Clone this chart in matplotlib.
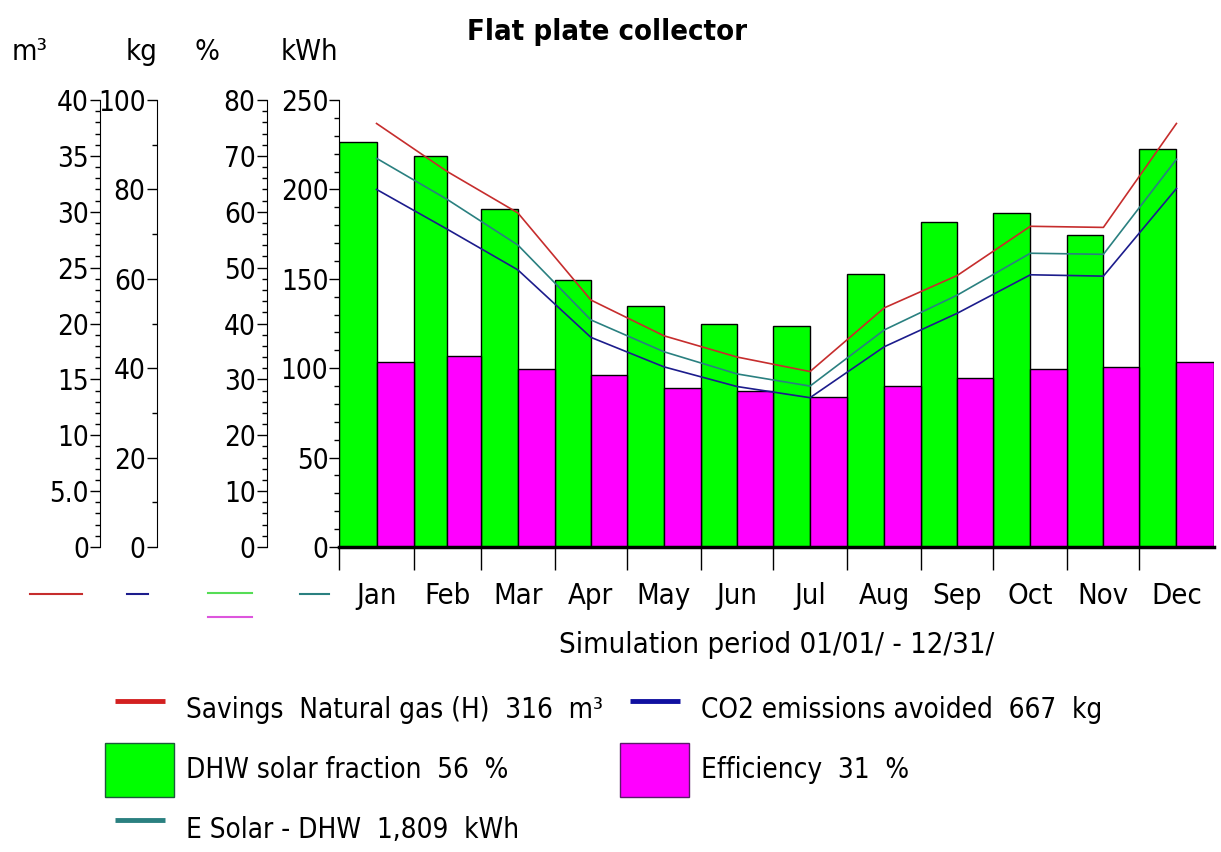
import numpy as np
import matplotlib
matplotlib.use("Agg")
import matplotlib.pyplot as plt
from matplotlib import font_manager as fm
from matplotlib.lines import Line2D
from matplotlib.patches import Patch
from matplotlib.ticker import MultipleLocator, FixedLocator

fp = fm.FontProperties(family='DejaVu Sans', stretch='condensed')
if 'Condensed' in fm.findfont(fp, fallback_to_default=False):
    plt.rcParams['font.family'] = ['DejaVu Sans']
    plt.rcParams['font.stretch'] = 'condensed'
    fs = 21
else:
    plt.rcParams['font.family'] = ['Liberation Sans', 'DejaVu Sans']
    fs = 20
plt.rcParams['font.size'] = fs

months = ['Jan', 'Feb', 'Mar', 'Apr', 'May', 'Jun',
          'Jul', 'Aug', 'Sep', 'Oct', 'Nov', 'Dec']
days_in_month = [31, 28, 31, 30, 31, 30, 31, 31, 30, 31, 30, 31]

# % axis (bars)
solar_fraction = [72.5, 70.0, 60.5, 47.8, 43.2, 39.9, 39.6, 48.8, 58.2, 59.8, 55.9, 71.2]
efficiency = [33.1, 34.2, 31.8, 30.8, 28.5, 27.9, 26.8, 28.8, 30.2, 31.8, 32.2, 33.1]
# lines
gas_savings = [37.9, 33.6, 29.9, 22.1, 18.9, 17.0, 15.7, 21.4, 24.3, 28.7, 28.6, 37.9]   # m3
co2_avoided = [80.0, 71.1, 62.0, 46.9, 40.3, 35.9, 33.4, 44.8, 52.3, 60.9, 60.6, 80.2]   # kg
e_solar = [217.4, 194.4, 168.9, 127.0, 109.2, 96.8, 90.0, 121.4, 140.9, 164.3, 163.7, 216.8]  # kWh

m3_ticks = [0, 5, 10, 15, 20, 25, 30, 35, 40]
m3_labels = ['0', '5.0', '10', '15', '20', '25', '30', '35', '40']

red = '#c62d2d'
blue = '#1c1c8c'
teal = '#2a8080'
green = '#00ff00'
magenta = '#ff00ff'

dm = np.array(days_in_month)
start = np.concatenate([[0], np.cumsum(dm)[:-1]])
half = dm / 2
mid = start + half

fig = plt.figure(figsize=(12.21, 8.52), dpi=100)
ax = fig.add_axes([0.278, 0.358, 0.7159, 0.5246])   # % axis, holds bars + x axis
ax_kwh = ax.twinx()
ax_kg = ax.twinx()
ax_m3 = ax.twinx()

ax.bar(start, solar_fraction, width=half, align='edge', color=green,
       edgecolor='black', linewidth=1)
ax.bar(start + half, efficiency, width=half, align='edge', color=magenta,
       edgecolor='black', linewidth=1)
ax_m3.plot(mid, gas_savings, color=red, lw=1.2)
ax_kg.plot(mid, co2_avoided, color=blue, lw=1.2)
ax_kwh.plot(mid, e_solar, color=teal, lw=1.2)

ax.set_xlim(0, 365)
ax.set_ylim(0, 80)
ax_kwh.set_ylim(0, 250)
ax_kg.set_ylim(0, 100)
ax_m3.set_ylim(0, 40)

# y axes all on the left, pushed outward
for a, off in [(ax, 52.4), (ax_kwh, 0), (ax_kg, 131.6), (ax_m3, 172.4)]:
    a.yaxis.tick_left()
    for s in ['top', 'right']:
        a.spines[s].set_visible(False)
    a.spines['left'].set_visible(True)
    a.spines['left'].set_position(('outward', off))
    a.tick_params(axis='y', which='major', direction='out', length=7, width=1,
                  pad=1, labelsize=fs - 1)
    a.tick_params(axis='y', which='minor', direction='out', length=3.5, width=1)
for a in [ax_kwh, ax_kg, ax_m3]:
    a.spines['bottom'].set_visible(False)

ax.yaxis.set_major_locator(MultipleLocator(10))
ax.yaxis.set_minor_locator(MultipleLocator(2))
ax_kwh.yaxis.set_major_locator(MultipleLocator(50))
ax_kwh.yaxis.set_minor_locator(MultipleLocator(10))
ax_kg.yaxis.set_major_locator(MultipleLocator(20))
ax_kg.yaxis.set_minor_locator(MultipleLocator(10))
ax_m3.set_yticks(m3_ticks, m3_labels)
ax_m3.yaxis.set_minor_locator(MultipleLocator(1))

ax.spines['bottom'].set_linewidth(2.5)
ax.xaxis.set_major_locator(FixedLocator(start))
ax.xaxis.set_minor_locator(FixedLocator(mid))
ax.set_xticklabels([])
ax.set_xticks(mid, months, minor=True)
ax.tick_params(axis='x', which='major', direction='out', length=16.5, width=1)
ax.tick_params(axis='x', which='minor', length=0, pad=25)
ax.set_xlabel('Simulation period 01/01/ - 12/31/', labelpad=15)

fig.text(0.497, 0.962, 'Flat plate collector', ha='center', va='center',
         fontweight='bold', fontsize=fs)
fig.text(12 / 1221, 0.939, 'm³', ha='left', va='center')
fig.text(157 / 1221, 0.939, 'kg', ha='right', va='center')
fig.text(195 / 1221, 0.939, '%', ha='left', va='center')
fig.text(338 / 1221, 0.939, 'kWh', ha='right', va='center')

# colour keys under the axes
keys = [(30, 82, 594, red), (127, 148, 594, blue), (208, 252, 593, '#55dd55'),
        (208, 252, 617, '#dd55dd'), (300, 329, 594, teal)]
for x0, x1, yy, c in keys:
    fig.add_artist(Line2D([x0 / 1221, x1 / 1221], [1 - yy / 852, 1 - yy / 852],
                          transform=fig.transFigure, color=c, lw=1.5))


def key_line(c):
    return Line2D([], [], color=c, ls='none', marker='_', markersize=36,
                  markeredgewidth=3.5)


leg_kw = dict(loc='upper left', frameon=False, fontsize=fs - 1,
              handlelength=2.5, handleheight=2.6, handletextpad=0.4,
              labelspacing=0.22, borderpad=0, borderaxespad=0)
leg1 = fig.legend([key_line('#d32020'), Patch(facecolor=green, edgecolor='#1d5a3a'),
                   key_line(teal)],
                  ['Savings  Natural gas (H)  316  m³', 'DHW solar fraction  56  %',
                   'E Solar - DHW  1,809  kWh'],
                  bbox_to_anchor=(105 / 1221, 1 - 683 / 852), **leg_kw)
leg2 = fig.legend([key_line('#1010a0'), Patch(facecolor=magenta, edgecolor='#5a1a6a')],
                  ['CO2 emissions avoided  667  kg', 'Efficiency  31  %'],
                  bbox_to_anchor=(620 / 1221, 1 - 683 / 852), **leg_kw)

fig.savefig('out.png', dpi=100)
